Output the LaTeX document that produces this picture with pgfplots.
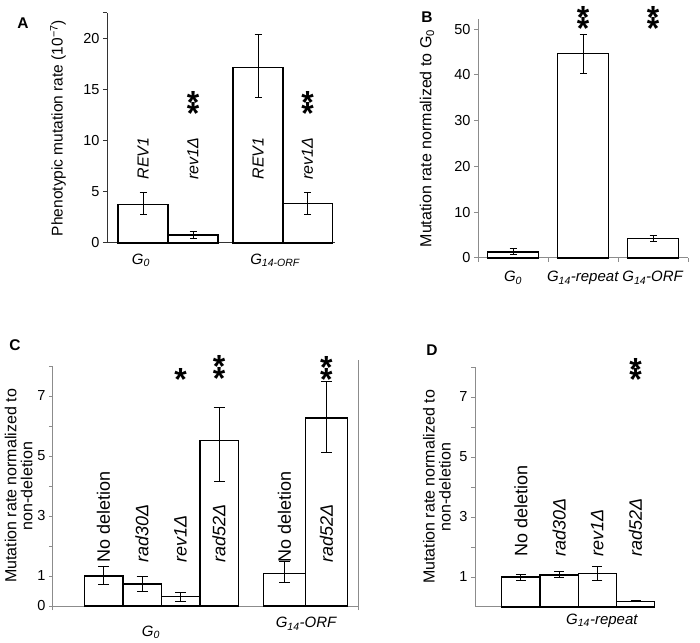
\documentclass[border=0pt]{standalone}
\usepackage{pgfplots}
\pgfplotsset{compat=1.18}
\usepackage{fontspec}
\setmainfont{Liberation Sans}

\newcommand\fs[1]{\fontsize{#1bp}{#1bp}\selectfont}
\newcommand\sstar{\fs{32}\bfseries *}

\tikzset{
  barlab/.style={rotate=90, anchor=west, inner sep=0},
  st/.style={anchor=north, inner sep=0},
}
\pgfplotsset{
  panel/.style={
    scale only axis, anchor=south west,
    axis lines=left, axis line style={-, line width=1bp},
    tick align=outside, major tick length=4bp,
    tick style={line width=1bp},
    enlargelimits=false, clip=false,
    /pgf/number format/assume math mode=true,
    tick label style={font=\fs{14.5}},
    ybar, bar shift=0pt,
  },
  ylab/.style={every axis y label/.style={at={(axis description cs:#1,0.5)},
    rotate=90, anchor=center, align=center, font=\fs{16}}},
  % bars={cap half width}{outline width}; keep it last in the option list
  bars/.style 2 args={fill=white, draw=black, line width=#2,
    error bars/.cd, y dir=both, y explicit,
    error bar style={line width=1bp, black},
    error mark options={rotate=90, line width=1bp, black, mark size=#1}},
}

\begin{document}
\begin{tikzpicture}
\useasboundingbox (0,0) rectangle (700bp,643bp);

% panel letters
\node[font=\fs{15.5}\bfseries] at (23bp,620bp) {A};
\node[font=\fs{15.5}\bfseries] at (427bp,626bp) {B};
\node[font=\fs{15.5}\bfseries] at (15bp,298bp) {C};
\node[font=\fs{15.5}\bfseries] at (432bp,293bp) {D};

% ---------------- A ----------------
\begin{axis}[panel, at={(107bp,400bp)}, width=228bp, height=230bp,
  xmin=-0.72, xmax=3.84, ymin=0, ymax=22.5,
  axis line style={black!80}, tick style={black!80},
  xtick=\empty, ytick={0,5,10,15,20},
  extra y ticks={22.5}, extra y tick labels={},
  ylab=-0.215, every axis y label/.append style={font=\fs{15.5}},
  ylabel={Phenotypic mutation rate (10\textsuperscript{−7})},
  bar width=1]
\addplot[bars={3.5bp}{1.2bp}] coordinates {
  (0,3.75)   += (0,1.15) -= (0,1.0)
  (1,0.78)   += (0,0.32) -= (0,0.32)
  (2.3,17.15) += (0,3.25) -= (0,2.95)
  (3.29,3.85) += (0,1.1) -= (0,1.1)
};
\node[barlab, font=\fs{16}\itshape] at (axis cs:0,6.2) {REV1};
\node[barlab, font=\fs{16}\itshape] at (axis cs:1,6.2) {rev1Δ};
\node[barlab, font=\fs{16}\itshape] at (axis cs:2.3,6.2) {REV1};
\node[barlab, font=\fs{16}\itshape] at (axis cs:3.29,6.2) {rev1Δ};
\node[st] at (axis cs:1,14.8) {\sstar};
\node[st] at (axis cs:1,13.8) {\sstar};
\node[st] at (axis cs:3.29,14.8) {\sstar};
\node[st] at (axis cs:3.29,13.8) {\sstar};
\node[anchor=base, font=\fs{15}\itshape] at (axis cs:-0.04,-2.06) {G\textsubscript{0}};
\node[anchor=base, font=\fs{15}\itshape] at (axis cs:2.64,-2.06) {G\textsubscript{14-ORF}};
\end{axis}

% ---------------- B ----------------
\begin{axis}[panel, at={(478bp,385bp)}, width=210bp, height=239bp,
  xmin=-0.5, xmax=2.5, ymin=0, ymax=52.2,
  axis line style={black!45}, tick style={black!45},
  ytick={0,10,...,50},
  xtick={-0.5,0.5,1.5,2.5}, x tick label as interval,
  xticklabels={\textit{G\textsubscript{0}}, \textit{G\textsubscript{14}-repeat}, \textit{G\textsubscript{14}-ORF}},
  xticklabel style={font=\fs{15}, yshift=-6bp},
  ylab=-0.243,
  ylabel={Mutation rate normalized to G\textsubscript{0}},
  bar width=0.72]
\addplot[bars={3.5bp}{1.2bp}] coordinates {
  (0,1.3)  += (0,0.75) -= (0,0.5)
  (1,44.6) += (0,4.2) -= (0,4.3)
  (2,4.2)  += (0,0.8) -= (0,0.7)
};
\node[st] at (axis cs:1,54.9) {\sstar};
\node[st] at (axis cs:1,52.5) {\sstar};
\node[st] at (axis cs:2,54.9) {\sstar};
\node[st] at (axis cs:2,52.5) {\sstar};
\end{axis}

% ---------------- C ----------------
\begin{axis}[panel, at={(53bp,37bp)}, width=305bp, height=240bp,
  xmin=-1.312, xmax=6.61, ymin=0, ymax=8,
  axis line style={black!45}, tick style={black!45},
  ytick={0,...,8}, yticklabels={0,1,,3,,5,,7,},
  xtick={-1.312,6.61}, xticklabels={,},
  ylab=-0.113,
  ylabel={Mutation rate normalized to\\non-deletion}]
\addplot[bar width=1, bars={5.5bp}{1.5bp}] coordinates {
  (0,1.0)  += (0,0.33) -= (0,0.28)
  (1,0.73) += (0,0.25) -= (0,0.23)
  (2,0.31) += (0,0.15) -= (0,0.17)
  (3,5.51) += (0,1.1) -= (0,1.37)
};
\addplot[bar width=1.09, bars={5.5bp}{1.5bp}] coordinates {
  (4.7,1.09) += (0,0.39) -= (0,0.31)
  (5.79,6.26) += (0,1.22) -= (0,1.14)
};
\draw[black!45, line width=1bp] (axis cs:6.61,0) -- (axis cs:6.61,8.2);
\node[barlab, font=\fs{18}] at (axis cs:0,1.43) {No deletion};
\node[barlab, font=\fs{18}\itshape] at (axis cs:1,1.43) {rad30Δ};
\node[barlab, font=\fs{18}\itshape] at (axis cs:2,1.43) {rev1Δ};
\node[barlab, font=\fs{18}\itshape] at (axis cs:3,1.43) {rad52Δ};
\node[barlab, font=\fs{18}] at (axis cs:4.7,1.43) {No deletion};
\node[barlab, font=\fs{18}\itshape] at (axis cs:5.79,1.43) {rad52Δ};
\node[st] at (axis cs:2,7.93) {\sstar};
\node[st] at (axis cs:3,8.37) {\sstar};
\node[st] at (axis cs:3,7.97) {\sstar};
\node[st] at (axis cs:5.79,8.31) {\sstar};
\node[st] at (axis cs:5.79,7.92) {\sstar};
\node[anchor=base, font=\fs{15}\itshape] at (axis cs:1.23,-1.0) {G\textsubscript{0}};
\node[anchor=base, font=\fs{15}\itshape] at (axis cs:5.26,-0.73) {G\textsubscript{14}-ORF};
\end{axis}

% ---------------- D ----------------
\begin{axis}[panel, at={(475bp,36bp)}, width=180bp, height=240bp,
  xmin=-1.2, xmax=3.51, ymin=0, ymax=8,
  axis line style={black!45}, tick style={black!45},
  ytick={1,...,8}, yticklabels={1,,3,,5,,7,},
  xtick=\empty,
  ylab=-0.211,
  ylabel={Mutation rate normalized to\\non-deletion},
  bar width=1]
\addplot[bars={5bp}{1.2bp}] coordinates {
  (0,1.0)  += (0,0.09) -= (0,0.1)
  (1,1.07) += (0,0.1) -= (0,0.09)
  (2,1.12) += (0,0.22) -= (0,0.22)
  (3,0.19) += (0,0.02) -= (0,0.02)
};
\node[barlab, font=\fs{18}] at (axis cs:0,1.67) {No deletion};
\node[barlab, font=\fs{18}\itshape] at (axis cs:1,1.67) {rad30Δ};
\node[barlab, font=\fs{18}\itshape] at (axis cs:2,1.67) {rev1Δ};
\node[barlab, font=\fs{18}\itshape] at (axis cs:3,1.67) {rad52Δ};
\node[st] at (axis cs:3,8.29) {\sstar};
\node[st] at (axis cs:3,7.96) {\sstar};
\node[anchor=base, font=\fs{15}\itshape] at (axis cs:2.12,-0.57) {G\textsubscript{14}-repeat};
\end{axis}
\end{tikzpicture}
\end{document}
